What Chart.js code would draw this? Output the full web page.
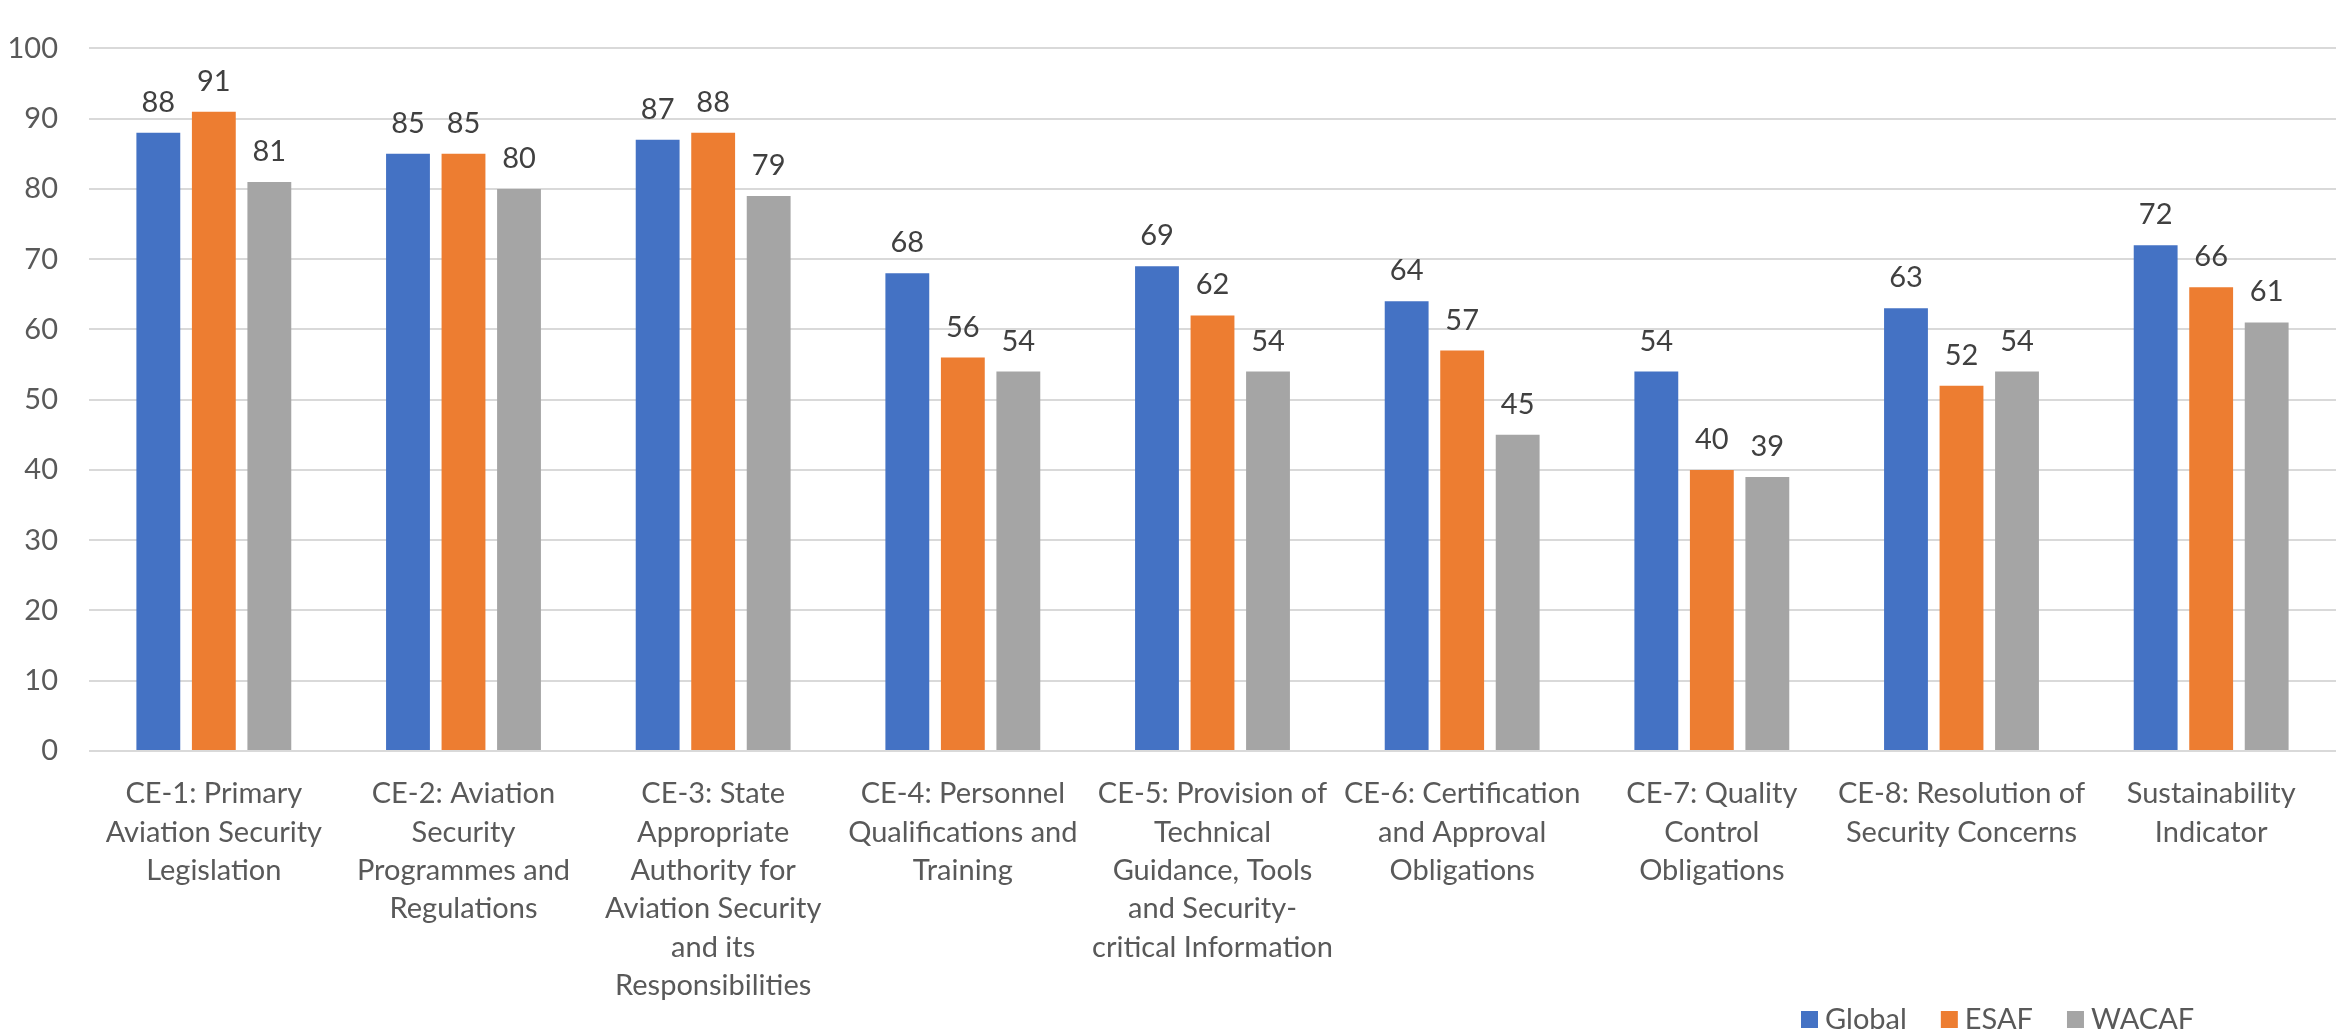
<!DOCTYPE html>
<html>
<head>
<meta charset="utf-8">
<script src="https://cdn.jsdelivr.net/npm/chart.js@4/dist/chart.umd.min.js"></script>
<style>
  html, body { margin: 0; padding: 0; background: #fff; }
  #wrap { width: 2351px; height: 1032px; }
</style>
</head>
<body>
<div id="wrap"><canvas id="auditChart" width="2351" height="1032"></canvas></div>
<script>
// categories, one array of lines per label
var categories = [
  ['CE-1: Primary', 'Aviation Security', 'Legislation'],
  ['CE-2: Aviation', 'Security', 'Programmes and', 'Regulations'],
  ['CE-3: State', 'Appropriate', 'Authority for', 'Aviation Security', 'and its', 'Responsibilities'],
  ['CE-4: Personnel', 'Qualifications and', 'Training'],
  ['CE-5: Provision of', 'Technical', 'Guidance, Tools', 'and Security-', 'critical Information'],
  ['CE-6: Certification', 'and Approval', 'Obligations'],
  ['CE-7: Quality', 'Control', 'Obligations'],
  ['CE-8: Resolution of', 'Security Concerns'],
  ['Sustainability', 'Indicator']
];
var globalVals = [88, 85, 87, 68, 69, 64, 54, 63, 72];
var esafVals   = [91, 85, 88, 56, 62, 57, 40, 52, 66];
var wacafVals  = [81, 80, 79, 54, 54, 45, 39, 54, 61];
var yTicks = [0, 10, 20, 30, 40, 50, 60, 70, 80, 90, 100];

var textColor = '#595959';
var fontFamily = 'Lato, "Open Sans", sans-serif';

// value above every bar
var barValues = {
  id: 'barValues',
  afterDatasetsDraw: function(chart) {
    var ctx = chart.ctx;
    ctx.save();
    ctx.fillStyle = '#404040';
    ctx.font = '29px ' + fontFamily;
    ctx.textAlign = 'center';
    ctx.textBaseline = 'alphabetic';
    chart.data.datasets.forEach(function(ds, i) {
      chart.getDatasetMeta(i).data.forEach(function(bar, j) {
        ctx.fillText(ds.data[j], bar.x, bar.y - 21);
      });
    });
    ctx.restore();
  }
};

// legend down in the bottom right corner
var cornerLegend = {
  id: 'cornerLegend',
  afterDraw: function(chart) {
    var ctx = chart.ctx;
    var x = 1801, y = 1019;
    ctx.save();
    ctx.font = '29px ' + fontFamily;
    ctx.textBaseline = 'middle';
    chart.data.datasets.forEach(function(ds) {
      ctx.fillStyle = ds.backgroundColor;
      ctx.fillRect(x, y - 8, 17, 17);
      ctx.fillStyle = textColor;
      ctx.fillText(ds.label, x + 24, y + 1);
      x += 24 + ctx.measureText(ds.label).width + 34;
    });
    ctx.restore();
  }
};

new Chart(document.getElementById('auditChart'), {
  type: 'bar',
  data: {
    labels: categories,
    datasets: [
      { label: 'Global', data: globalVals, backgroundColor: '#4472C4' },
      { label: 'ESAF',   data: esafVals,   backgroundColor: '#ED7D31' },
      { label: 'WACAF',  data: wacafVals,  backgroundColor: '#A5A5A5' }
    ]
  },
  options: {
    responsive: false,
    animation: false,
    layout: { padding: { top: 20, right: 15, left: 0, bottom: 0 } },
    datasets: { bar: { categoryPercentage: 0.667, barPercentage: 0.79 } },
    plugins: {
      legend: { display: false },
      tooltip: { enabled: false }
    },
    scales: {
      x: {
        grid: { display: false },
        border: { display: false },
        ticks: {
          color: textColor,
          padding: 16,
          maxRotation: 0,
          autoSkip: false,
          font: { family: fontFamily, size: 29, lineHeight: 1.32 }
        },
        afterFit: function(s) { s.height = 281; }
      },
      y: {
        min: 0,
        max: 100,
        afterBuildTicks: function(s) { s.ticks = yTicks.map(function(v) { return { value: v }; }); },
        grid: { color: '#D9D9D9', lineWidth: 2, drawTicks: false },
        border: { display: false },
        ticks: {
          color: textColor,
          padding: 31,
          font: { family: fontFamily, size: 29, lineHeight: 1.2 }
        },
        afterFit: function(s) { s.width = 89; }
      }
    }
  },
  plugins: [barValues, cornerLegend]
});
</script>
</body>
</html>
